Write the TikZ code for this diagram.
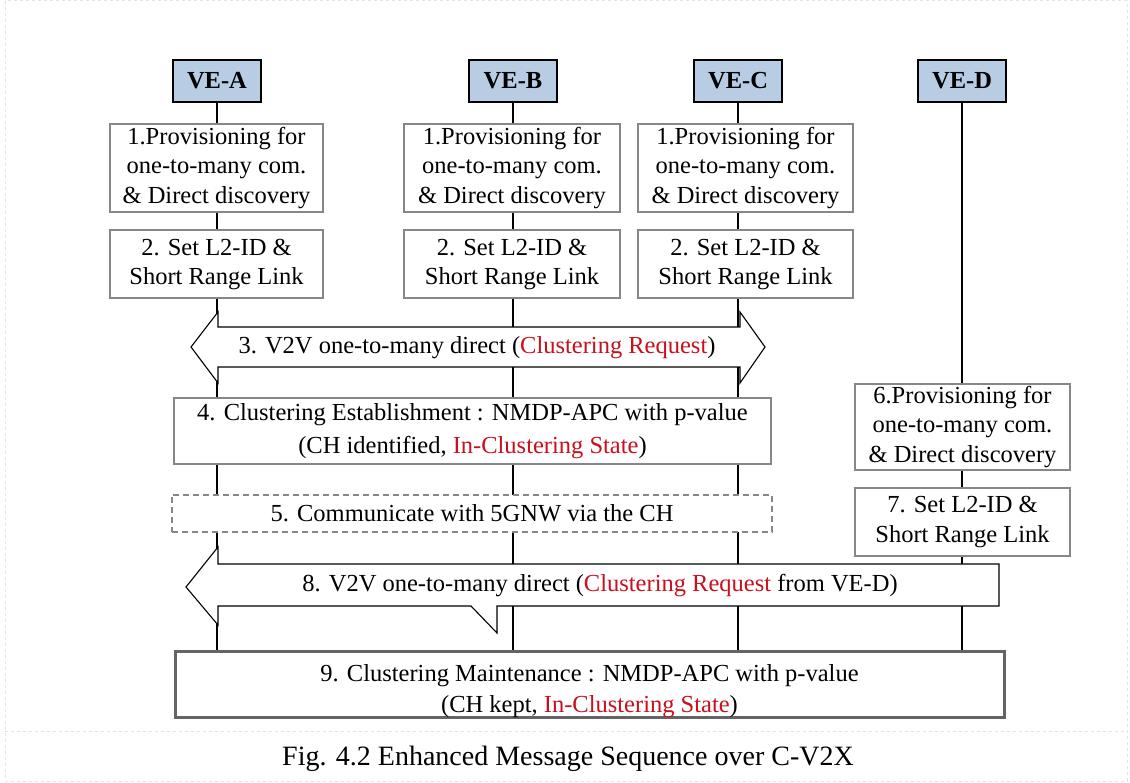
\documentclass[tikz,border=0pt]{standalone}
\usepackage{fontspec}
\setmainfont{Liberation Serif}
\definecolor{hdrblue}{RGB}{184,204,228}
\definecolor{boxgray}{RGB}{135,135,135}
\definecolor{darkgray}{RGB}{100,100,100}
\definecolor{msgred}{RGB}{200,16,30}
\definecolor{framegray}{RGB}{228,228,228}
\pgfdeclarelayer{bg}
\pgfsetlayers{bg,main}
\begin{document}
\begin{tikzpicture}[x=1pt,y=-1pt,
  every node/.style={inner sep=0pt, outer sep=0pt},
  header/.style={draw=black, line width=2.5pt, fill=hdrblue,
    font=\fontsize{24.5}{29}\selectfont\bfseries,
    minimum width=88pt, minimum height=42pt},
  stepbox/.style={draw=boxgray, line width=2pt, fill=white, align=center,
    font=\fontsize{24.5}{29.5}\selectfont},
  widebox/.style={stepbox, font=\fontsize{24.5}{33.5}\selectfont},
  lifeline/.style={draw=black, line width=2.5pt},
  msgarrow/.style={draw=black, line width=1.1pt, fill=white, line join=miter},
  msgtext/.style={font=\fontsize{24.5}{29}\selectfont}
]
\useasboundingbox (0,0) rectangle (1130,783);

% faint page frame and caption separator
\draw[framegray, dashed, line width=1pt] (5,1) rectangle (1127,781);
\draw[framegray, dashed, line width=1pt] (5,731) -- (1127,731);

% vehicle headers
\node[header] (hA) at (217,81) {VE-A};
\node[header] (hB) at (513,81) {VE-B};
\node[header] (hC) at (738,81) {VE-C};
\node[header] (hD) at (962,81) {VE-D};

% per-vehicle setup steps
\node[stepbox, minimum width=213pt, minimum height=88pt] (A1) at (216.5,168)
  {1.Provisioning for\\one-to-many com.\\\& Direct discovery};
\node[stepbox, minimum width=213pt, minimum height=68pt] (A2) at (216.5,264.5)
  {2. Set L2-ID \&\\Short Range Link};
\node[stepbox, minimum width=216pt, minimum height=88pt] (B1) at (512,168)
  {1.Provisioning for\\one-to-many com.\\\& Direct discovery};
\node[stepbox, minimum width=216pt, minimum height=68pt] (B2) at (512,264.5)
  {2. Set L2-ID \&\\Short Range Link};
\node[stepbox, minimum width=215pt, minimum height=88pt] (C1) at (745.5,168)
  {1.Provisioning for\\one-to-many com.\\\& Direct discovery};
\node[stepbox, minimum width=215pt, minimum height=68pt] (C2) at (745.5,264.5)
  {2. Set L2-ID \&\\Short Range Link};

% joint steps
\node[widebox, minimum width=597pt, minimum height=66pt] (S4) at (472.5,431)
  {4. Clustering Establishment : NMDP-APC with p-value\\
   (CH identified, \textcolor{msgred}{In-Clustering State})};
\node[stepbox, draw=boxgray, dashed, dash pattern=on 6pt off 4pt,
  minimum width=600pt, minimum height=37pt] (S5) at (472,513)
  {5. Communicate with 5GNW via the CH};

% late joining vehicle
\node[stepbox, minimum width=215pt, minimum height=86pt] (D6) at (962.5,427)
  {6.Provisioning for\\one-to-many com.\\\& Direct discovery};
\node[stepbox, minimum width=215pt, minimum height=68pt] (D7) at (962.5,522)
  {7. Set L2-ID \&\\Short Range Link};

% maintenance step
\node[widebox, draw=darkgray, line width=3pt, minimum width=829pt, minimum height=65pt,
  font=\fontsize{24.5}{31}\selectfont]
  (S9) at (589.5,684.5)
  {\rule{0pt}{30pt}9. Clustering Maintenance : NMDP-APC with p-value\\
   (CH kept, \textcolor{msgred}{In-Clustering State})};

% lifelines
\begin{pgfonlayer}{bg}
  \draw[lifeline] (hA.south) -- (hA.south |- S9.north);
  \draw[lifeline] (hB.south) -- (hB.south |- S9.north);
  \draw[lifeline] (hC.south) -- (hC.south |- S9.north);
  \draw[lifeline] (hD.south) -- (hD.south |- S9.north);
\end{pgfonlayer}

% 3: broadcast among VE-A, VE-B, VE-C
\draw[msgarrow] (218,327) -- (218,312) -- (191,347) -- (218,383) -- (218,367)
  -- (740,367) -- (740,383) -- (765,347) -- (740,312) -- (740,327) -- cycle;
\node[msgtext] (m3) at (477,348)
  {3. V2V one-to-many direct (\textcolor{msgred}{Clustering Request})};

% 8: request from VE-D
\draw[msgarrow] (999,564) -- (218,564) -- (218,547) -- (186,587) -- (218,625)
  -- (218,606) -- (471,606) -- (497,633) -- (497,606) -- (999,606) -- cycle;
\node[msgtext] (m8) at (600,586)
  {8. V2V one-to-many direct (\textcolor{msgred}{Clustering Request} from VE-D)};

% caption
\node[font=\fontsize{28}{32}\selectfont] (cap) at (568,759)
  {Fig. 4.2 Enhanced Message Sequence over C-V2X};
\end{tikzpicture}
\end{document}
